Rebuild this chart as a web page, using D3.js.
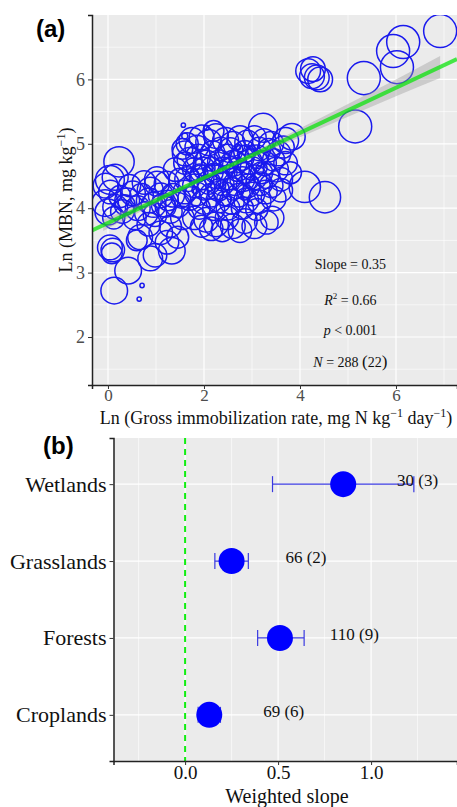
<!DOCTYPE html>
<html>
<head>
<meta charset="utf-8">
<script src="https://cdn.jsdelivr.net/npm/d3@7"></script>
<style>
  body { margin: 0; background: #fff; }
  svg text { font-family: "Liberation Serif", "Times New Roman", serif; }
</style>
</head>
<body>
<div id="chart"></div>
<script>
// ---- panel (a) data: [ln gross immobilization, ln MBN, weight] ----
const pointsA = [
  // left group
  [0.23,4.72,75],[0.04,4.44,68],[0.15,4.48,55],[-0.06,4.08,58],[0.0,3.94,55],[0.15,4.02,50],
  [0.40,4.12,50],[0.52,4.23,50],[0.05,4.25,45],[0.30,3.95,45],[0.62,4.00,50],[0.70,4.20,45],
  [0.85,4.12,50],[0.95,4.05,50],[0.80,3.92,45],[1.02,4.38,50],[0.88,4.28,55],[1.10,4.20,50],
  [0.45,4.35,40],[0.25,4.18,40],[0.55,3.85,45],[-0.05,4.35,50],[0.12,3.85,40],[0.75,4.40,45],
  [0.35,4.05,35],[0.98,3.90,45],[1.15,4.05,45],
  // lower left
  [0.04,3.39,50],[0.08,3.30,35],[0.10,3.35,45],[0.42,3.03,58],[0.13,2.72,58],[0.71,2.80,1.5],
  [0.65,2.59,1.5],[0.67,3.55,50],[0.88,3.22,50],[0.98,3.27,45],[1.33,3.34,58],[1.23,3.47,45],
  [1.10,3.62,45],[0.85,3.75,45],[1.30,3.72,40],[0.60,3.50,35],[1.45,3.55,40],
  // middle left
  [1.02,4.45,50],[1.22,4.38,50],[1.35,4.20,45],[1.45,4.05,50],[1.30,3.95,45],[1.55,3.85,45],
  [1.60,4.25,45],[1.50,4.45,40],[1.25,4.12,35],[1.40,4.60,45],[1.60,4.70,40],[1.55,4.92,35],
  [1.57,5.29,1.5],[1.60,4.85,50],[1.20,4.02,35],[1.52,4.15,30],
  // central cluster
  [1.75,5.05,55],[1.95,5.10,50],[2.10,5.02,55],[2.25,5.12,50],[2.45,5.05,55],[2.60,5.00,50],
  [2.75,5.08,55],[2.90,5.02,50],[3.05,5.10,45],[1.85,4.95,45],[2.35,4.92,45],[2.55,4.90,50],
  [2.20,5.20,35],[1.65,5.00,40],[3.15,4.92,45],[2.85,4.88,40],
  [1.70,4.75,50],[1.88,4.80,50],[2.05,4.70,55],[2.18,4.85,50],[2.32,4.72,45],[2.48,4.80,50],
  [2.62,4.70,55],[2.78,4.78,50],[2.95,4.72,50],[3.10,4.80,45],[3.25,4.70,50],[1.80,4.60,45],
  [2.00,4.62,40],[2.40,4.62,40],[2.70,4.60,45],[3.00,4.62,45],[3.20,4.55,40],[2.15,4.65,30],
  [2.55,4.68,20],[2.88,4.85,25],
  [1.65,4.45,50],[1.80,4.35,45],[1.95,4.48,50],[2.10,4.40,45],[2.25,4.50,50],[2.38,4.38,45],
  [2.52,4.48,50],[2.65,4.38,45],[2.80,4.45,50],[2.92,4.35,45],[3.05,4.48,50],[3.18,4.38,45],
  [3.30,4.50,50],[2.00,4.30,40],[2.30,4.28,40],[2.60,4.30,40],[2.85,4.55,35],[2.20,4.55,30],
  [1.90,4.55,25],[3.40,4.35,45],
  [1.70,4.15,45],[1.85,4.22,45],[2.00,4.10,50],[2.15,4.20,45],[2.30,4.12,50],[2.45,4.22,45],
  [2.58,4.10,50],[2.72,4.20,45],[2.88,4.12,50],[3.02,4.22,45],[3.15,4.10,45],[3.28,4.25,45],
  [1.90,4.00,40],[2.20,3.98,40],[2.50,4.00,45],[2.80,4.00,40],[3.10,3.98,40],[3.45,4.15,50],
  [3.60,4.28,45],
  [1.80,3.85,45],[2.05,3.82,50],[2.25,3.75,50],[2.48,3.85,45],[2.60,3.72,50],[2.85,3.80,50],
  [3.05,3.72,50],[3.30,3.78,45],[2.15,3.68,45],[2.75,3.65,45],[3.42,3.85,45],[1.95,3.72,40],
  [2.38,3.65,40],
  // right of centre
  [3.23,5.25,68],[3.83,5.11,58],[3.40,5.00,50],[3.55,4.85,50],[3.70,4.70,45],[3.50,4.60,50],
  [3.35,4.90,45],[3.65,4.95,40],[3.80,4.55,40],[3.60,4.45,45],[3.25,5.05,45],[3.45,4.75,40],
  // small ones
  [1.60,5.12,3],[2.05,5.25,2],[1.82,4.28,4],[2.60,4.55,6],[2.35,4.35,8],[2.95,4.90,5],
  [2.70,4.95,3],[2.10,4.58,10],[3.00,4.40,12],[1.75,4.52,15],[2.42,4.15,18],[2.85,4.25,20],
  [3.20,4.62,10],
  // outliers
  [6.92,6.75,89],[6.15,6.58,89],[5.94,6.44,89],[6.02,6.19,89],[5.33,6.02,89],[5.15,5.27,89],
  [4.17,6.13,50],[4.27,6.16,50],[4.35,6.03,50],[4.42,6.00,50],[4.25,6.05,50],[4.10,4.33,80],
  [4.52,4.17,80],[3.70,5.05,55]
];

// regression fit and confidence ribbon
const fitIntercept = 3.77;
const fitSlope = 0.35;
const ribbonX = [-0.1, 1, 2, 3, 4, 5, 6, 6.92];
const ribbonHalf = [0.09, 0.05, 0.03, 0.035, 0.07, 0.10, 0.13, 0.17];

const ticksAX = [0, 2, 4, 6];
const ticksAY = [2, 3, 4, 5, 6];

// ---- panel (b) data ----
const ecosystems = ["Wetlands", "Grasslands", "Forests", "Croplands"];
const slopeMean = [0.85, 0.25, 0.51, 0.13];
const slopeLow = [0.47, 0.16, 0.39, 0.07];
const slopeHigh = [1.23, 0.34, 0.64, 0.19];
const countLabels = ["30 (3)", "66 (2)", "110 (9)", "69 (6)"];
const labelX = [1.25, 0.65, 0.91, 0.53];
const ticksBX = [0, 0.5, 1.0];

const W = 457, H = 807;
const svg = d3.create("svg").attr("width", W).attr("height", H);

const panelBg = "#ebebeb";
const blue = "#1a1aee";

// ================= panel (a) =================
const a = {left: 92, right: 457, top: 15, bottom: 385};
const xA = d3.scaleLinear().domain([-0.333, 7.271]).range([a.left, a.right]);
const yA = d3.scaleLinear().domain([1.255, 7.0]).range([a.bottom, a.top]);
const rA = d3.scaleSqrt().domain([0, 100]).range([0, 17.5]);

svg.append("defs").append("clipPath").attr("id", "clipA")
  .append("rect").attr("x", a.left).attr("y", a.top)
  .attr("width", a.right - a.left).attr("height", a.bottom - a.top);

const gA = svg.append("g");
gA.append("rect").attr("x", a.left).attr("y", a.top)
  .attr("width", a.right - a.left).attr("height", a.bottom - a.top).attr("fill", panelBg);

// minor grid
gA.selectAll(".minx").data([1, 3, 5, 7]).join("line")
  .attr("x1", d => xA(d)).attr("x2", d => xA(d))
  .attr("y1", a.top).attr("y2", a.bottom)
  .attr("stroke", "#fff").attr("stroke-width", 0.6);
gA.selectAll(".miny").data([1.5, 2.5, 3.5, 4.5, 5.5, 6.5]).join("line")
  .attr("x1", a.left).attr("x2", a.right)
  .attr("y1", d => yA(d)).attr("y2", d => yA(d))
  .attr("stroke", "#fff").attr("stroke-width", 0.6);
// major grid
gA.selectAll(".majx").data(ticksAX).join("line")
  .attr("x1", d => xA(d)).attr("x2", d => xA(d))
  .attr("y1", a.top).attr("y2", a.bottom)
  .attr("stroke", "#fff").attr("stroke-width", 1.2);
gA.selectAll(".majy").data(ticksAY).join("line")
  .attr("x1", a.left).attr("x2", a.right)
  .attr("y1", d => yA(d)).attr("y2", d => yA(d))
  .attr("stroke", "#fff").attr("stroke-width", 1.2);

const plotA = gA.append("g").attr("clip-path", "url(#clipA)");

// circles
plotA.selectAll("circle").data(pointsA).join("circle")
  .attr("cx", d => xA(d[0])).attr("cy", d => yA(d[1])).attr("r", d => rA(d[2]))
  .attr("fill", "none").attr("stroke", blue).attr("stroke-width", 1.5);

// ribbon
const ribbon = ribbonX.map((x, i) => ({x, lo: fitIntercept + fitSlope * x - ribbonHalf[i], hi: fitIntercept + fitSlope * x + ribbonHalf[i]}));
plotA.append("path").datum(ribbon)
  .attr("d", d3.area().x(d => xA(d.x)).y0(d => yA(d.lo)).y1(d => yA(d.hi)).curve(d3.curveMonotoneX))
  .attr("fill", "#9a9a9a").attr("opacity", 0.4);

// fitted line over full range
const dom = xA.domain();
plotA.append("line")
  .attr("x1", xA(dom[0])).attr("y1", yA(fitIntercept + fitSlope * dom[0]))
  .attr("x2", xA(dom[1])).attr("y2", yA(fitIntercept + fitSlope * dom[1]))
  .attr("stroke", "#00e400").attr("stroke-opacity", 0.7).attr("stroke-width", 4);

// axes
const axA_x = gA.append("g").attr("transform", `translate(0,${a.bottom})`)
  .call(d3.axisBottom(xA).tickValues(ticksAX).tickSize(4).tickPadding(0).tickFormat(d3.format("d")));
const axA_y = gA.append("g").attr("transform", `translate(${a.left},0)`)
  .call(d3.axisLeft(yA).tickValues(ticksAY).tickSize(4).tickPadding(3).tickFormat(d3.format("d")));
[axA_x, axA_y].forEach(ax => {
  ax.select(".domain").attr("stroke", "#222").attr("stroke-width", 1.5);
  ax.selectAll(".tick line").attr("stroke", "#333");
  ax.selectAll(".tick text").attr("fill", "#4d4d4d").attr("font-size", 18)
    .attr("font-family", "Liberation Serif, serif");
});
axA_x.selectAll(".tick text").attr("font-size", 17);

// annotations
const ann = gA.append("g").attr("font-size", 14).attr("fill", "#111").attr("text-anchor", "middle");
const annX = xA(5.05);
ann.append("text").attr("x", annX).attr("y", yA(3.05)).text("Slope = 0.35");
const r2 = ann.append("text").attr("x", annX).attr("y", yA(2.5));
r2.append("tspan").attr("font-style", "italic").text("R");
r2.append("tspan").attr("font-size", 9).attr("dy", -6).text("2");
r2.append("tspan").attr("dy", 6).text(" = 0.66");
const pt = ann.append("text").attr("x", annX).attr("y", yA(2.03));
pt.append("tspan").attr("font-style", "italic").text("p");
pt.append("tspan").text(" < 0.001");
const nt = ann.append("text").attr("x", annX).attr("y", yA(1.53));
nt.append("tspan").attr("font-style", "italic").text("N");
nt.append("tspan").text(" = 288 ");
nt.append("tspan").attr("font-size", 17).text("(");
nt.append("tspan").text("22");
nt.append("tspan").attr("font-size", 17).text(")");

// axis titles
const xtA = svg.append("text").attr("x", 276).attr("y", 424).attr("text-anchor", "middle")
  .attr("font-size", 18).attr("fill", "#111");
xtA.append("tspan").text("Ln (Gross immobilization rate, mg N kg");
xtA.append("tspan").attr("font-size", 12).attr("dy", -7).text("\u22121");
xtA.append("tspan").attr("dy", 7).text(" day");
xtA.append("tspan").attr("font-size", 12).attr("dy", -7).text("\u22121");
xtA.append("tspan").attr("dy", 7).text(")");

const ytA = svg.append("text").attr("transform", "translate(72,200) rotate(-90)")
  .attr("text-anchor", "middle").attr("font-size", 18).attr("fill", "#111");
ytA.append("tspan").text("Ln (MBN, mg kg");
ytA.append("tspan").attr("font-size", 12).attr("dy", -7).text("\u22121");
ytA.append("tspan").attr("dy", 7).text(")");

svg.append("text").attr("x", 36).attr("y", 37).attr("font-size", 24).attr("font-weight", "bold")
  .style("font-family", "Liberation Sans, Arial, sans-serif").text("(a)");

// ================= panel (b) =================
const b = {left: 113.5, right: 457, top: 438, bottom: 761};
const xB = d3.scaleLinear().domain([-0.385, 1.462]).range([b.left, b.right]);
const yB = d3.scalePoint().domain(ecosystems).range([b.top, b.bottom]).padding(0.6);

const gB = svg.append("g");
gB.append("rect").attr("x", b.left).attr("y", b.top)
  .attr("width", b.right - b.left).attr("height", b.bottom - b.top).attr("fill", panelBg);
gB.selectAll(".minx").data([-0.25, 0.25, 0.75, 1.25]).join("line")
  .attr("x1", d => xB(d)).attr("x2", d => xB(d)).attr("y1", b.top).attr("y2", b.bottom)
  .attr("stroke", "#fff").attr("stroke-width", 0.6);
gB.selectAll(".majx").data(ticksBX).join("line")
  .attr("x1", d => xB(d)).attr("x2", d => xB(d)).attr("y1", b.top).attr("y2", b.bottom)
  .attr("stroke", "#fff").attr("stroke-width", 1.2);
gB.selectAll(".majy").data(ecosystems).join("line")
  .attr("x1", b.left).attr("x2", b.right).attr("y1", d => yB(d)).attr("y2", d => yB(d))
  .attr("stroke", "#fff").attr("stroke-width", 1.2);

// zero line
gB.append("line").attr("x1", xB(0)).attr("x2", xB(0)).attr("y1", b.top).attr("y2", b.bottom)
  .attr("stroke", "#11ee11").attr("stroke-width", 2).attr("stroke-dasharray", "6,5");

const rowsB = ecosystems.map((e, i) => ({e, m: slopeMean[i], lo: slopeLow[i], hi: slopeHigh[i], lab: countLabels[i], lx: labelX[i]}));
const eb = gB.selectAll(".eb").data(rowsB).join("g").attr("stroke", "#3a3ae0").attr("stroke-width", 1.2);
eb.append("line").attr("x1", d => xB(d.lo)).attr("x2", d => xB(d.hi))
  .attr("y1", d => yB(d.e)).attr("y2", d => yB(d.e));
eb.append("line").attr("x1", d => xB(d.lo)).attr("x2", d => xB(d.lo))
  .attr("y1", d => yB(d.e) - 8).attr("y2", d => yB(d.e) + 8);
eb.append("line").attr("x1", d => xB(d.hi)).attr("x2", d => xB(d.hi))
  .attr("y1", d => yB(d.e) - 8).attr("y2", d => yB(d.e) + 8);

gB.selectAll(".pt").data(rowsB).join("circle")
  .attr("cx", d => xB(d.m)).attr("cy", d => yB(d.e)).attr("r", 13).attr("fill", "#0000ff");

gB.selectAll(".lab").data(rowsB).join("text")
  .attr("x", d => xB(d.lx)).attr("y", d => yB(d.e) + 2).attr("text-anchor", "middle")
  .attr("font-size", 17).attr("fill", "#111").text(d => d.lab);

const axB_x = gB.append("g").attr("transform", `translate(0,${b.bottom})`)
  .call(d3.axisBottom(xB).tickValues(ticksBX).tickSize(4).tickPadding(1).tickFormat(d3.format(".1f")));
const axB_y = gB.append("g").attr("transform", `translate(${b.left},0)`)
  .call(d3.axisLeft(yB).tickSize(4).tickPadding(3));
[axB_x, axB_y].forEach(ax => {
  ax.select(".domain").attr("stroke", "#222").attr("stroke-width", 1.5);
  ax.selectAll(".tick line").attr("stroke", "#333");
  ax.selectAll(".tick text").attr("fill", "#111").attr("font-size", 19)
    .attr("font-family", "Liberation Serif, serif");
});
axB_y.selectAll(".tick text").attr("font-size", 22);

svg.append("text").attr("x", 287).attr("y", 803).attr("text-anchor", "middle")
  .attr("font-size", 20).attr("fill", "#111").text("Weighted slope");

svg.append("text").attr("x", 43).attr("y", 454).attr("font-size", 24).attr("font-weight", "bold")
  .style("font-family", "Liberation Sans, Arial, sans-serif").text("(b)");

document.getElementById("chart").appendChild(svg.node());
</script>
</body>
</html>
